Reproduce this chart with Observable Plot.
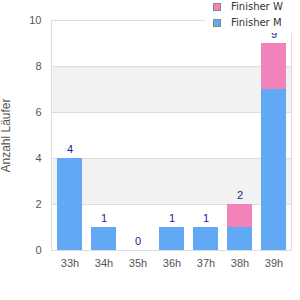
<!DOCTYPE html>
<html>
<head>
<meta charset="utf-8">
<script src="https://cdn.jsdelivr.net/npm/d3@7"></script>
<script src="https://cdn.jsdelivr.net/npm/@observablehq/plot@0.6"></script>
<style>
  html, body { margin: 0; padding: 0; background: #fff; }
  #wrap { position: relative; width: 300px; height: 300px; overflow: hidden; }
  #legend { position: absolute; left: 205px; top: 0; width: 95px; height: 33px; background: #fff;
            font-family: "DejaVu Sans", sans-serif; font-size: 10px; color: #333; }
  .sw { position: absolute; width: 6px; height: 6px; border: 1px solid #888; }
  .lt { position: absolute; line-height: 12px; white-space: nowrap; }
</style>
</head>
<body>
<div id="wrap"><div id="legend"></div></div>
<script>
const hours = ["33h", "34h", "35h", "36h", "37h", "38h", "39h"];
const finisherM = [4, 1, 0, 1, 1, 1, 7];
const finisherW = [0, 0, 0, 0, 0, 1, 2];
const seriesNames = ["Finisher M", "Finisher W"];
const seriesColors = ["#62a9f5", "#f283ba"];
const yTicks = [0, 2, 4, 6, 8, 10];
const bandPairs = [[2, 4], [6, 8]];
const yTitle = "Anzahl Läufer";

const rows = [];
hours.forEach((h, i) => {
  rows.push({hour: h, series: seriesNames[0], count: finisherM[i]});
  rows.push({hour: h, series: seriesNames[1], count: finisherW[i]});
});
const totals = hours.map((h, i) => ({hour: h, total: finisherM[i] + finisherW[i]}));
const bands = bandPairs.map(([a, b]) => ({y1: a, y2: b}));

const chart = Plot.plot({
  width: 300,
  height: 300,
  marginTop: 20,
  marginBottom: 50,
  marginLeft: 51,
  marginRight: 9,
  style: {fontFamily: '"Liberation Sans", Arial, sans-serif', fontSize: "11px", background: "#fff"},
  x: {domain: hours, paddingInner: 0.272, paddingOuter: 0.136, label: null},
  y: {domain: [0, 10], label: null},
  color: {domain: seriesNames, range: seriesColors},
  marks: [
    Plot.rect(bands, {y1: "y1", y2: "y2", fill: "#f2f2f2"}),
    Plot.ruleY(yTicks, {stroke: "#dddddd"}),
    Plot.frame({stroke: "#dddddd"}),
    Plot.barY(rows, {x: "hour", y: "count", fill: "series"}),
    Plot.text(totals, {x: "hour", y: "total", text: d => String(d.total), dy: -9, fill: "#1c1c9c", fontSize: 11}),
    Plot.axisX({tickSize: 0, tickPadding: 9, fill: "#555", fontSize: 11}),
    Plot.axisY({ticks: yTicks, tickSize: 0, tickPadding: 10, fill: "#555", fontSize: 11, label: null}),
    Plot.text([yTitle], {frameAnchor: "left", textAnchor: "middle", dx: -45, rotate: -90, text: d => d, fill: "#555", fontSize: 12})
  ]
});
const wrap = document.getElementById("wrap");
wrap.insertBefore(chart, wrap.firstChild);

const legend = document.getElementById("legend");
const legendOrder = [1, 0];
legendOrder.forEach((si, row) => {
  const cy = row === 0 ? 7 : 23;
  const sw = document.createElement("div");
  sw.className = "sw";
  sw.style.left = "8px";
  sw.style.top = (cy - 4) + "px";
  sw.style.background = seriesColors[si];
  legend.appendChild(sw);
  const t = document.createElement("div");
  t.className = "lt";
  t.style.left = "26px";
  t.style.top = (cy - 6) + "px";
  t.textContent = seriesNames[si];
  legend.appendChild(t);
});
</script>
</body>
</html>
